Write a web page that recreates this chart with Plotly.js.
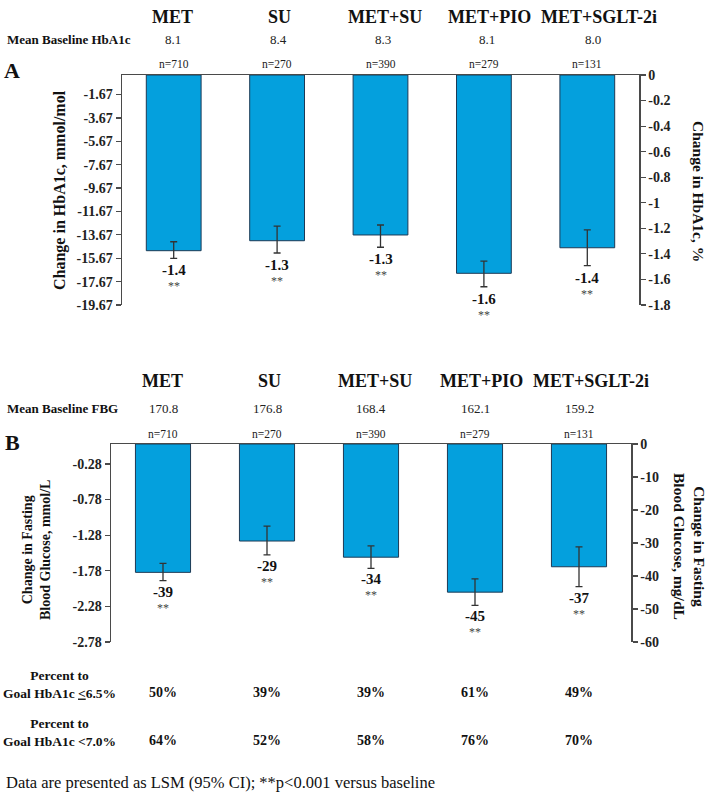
<!DOCTYPE html>
<html>
<head>
<meta charset="utf-8">
<script src="https://cdn.plot.ly/plotly-3.0.1.min.js"></script>
<style>
  html, body { margin: 0; padding: 0; background: #fff; }
  #graph { width: 708px; height: 797px; }
</style>
</head>
<body>
<div id="graph"></div>
<script>
// Treatment groups
const groups = ['MET', 'SU', 'MET+SU', 'MET+PIO', 'MET+SGLT-2i'];
const nPatients = ['n=710', 'n=270', 'n=390', 'n=279', 'n=131'];
const baselineHbA1c = ['8.1', '8.4', '8.3', '8.1', '8.0'];
const baselineFBG = ['170.8', '176.8', '168.4', '162.1', '159.2'];

// Panel A: change in HbA1c, %
const hba1cChange = [-1.375, -1.297, -1.252, -1.552, -1.352];
const hba1cErrUp = [0.07, 0.115, 0.078, 0.096, 0.14];
const hba1cErrDown = [0.06, 0.096, 0.096, 0.105, 0.14];
const hba1cLabels = ['-1.4', '-1.3', '-1.3', '-1.6', '-1.4'];

// Panel B: change in FBG, mg/dL
const fbgChange = [-38.9, -29.4, -34.3, -44.9, -37.2];
const fbgErrUp = [2.7, 4.5, 3.4, 4.0, 6.0];
const fbgErrDown = [2.5, 4.2, 3.4, 4.0, 6.0];
const fbgLabels = ['-39', '-29', '-34', '-45', '-37'];

// Percent to goal rows
const goal65 = ['50%', '39%', '39%', '61%', '49%'];
const goal70 = ['64%', '52%', '58%', '76%', '70%'];

// Tick values
const ticksMmolMol = [-1.67, -3.67, -5.67, -7.67, -9.67, -11.67, -13.67, -15.67, -17.67, -19.67];
const ticksPct = [0, -0.2, -0.4, -0.6, -0.8, -1, -1.2, -1.4, -1.6, -1.8];
const ticksMmolL = [-0.28, -0.78, -1.28, -1.78, -2.28, -2.78];
const ticksMgdl = [0, -10, -20, -30, -40, -50, -60];

const W = 708, H = 797;
const serif = 'Liberation Serif, Times New Roman, serif';
const barColor = '#04A0DD';
const axisColor = '#4a4a4a';
// header labels sit a little right of the bar centres in the original
const headerShift = [-1, 2, 4, 6, 12];

// pixel helpers -> paper coords
function px(x) { return x / W; }
function py(y) { return 1 - y / H; }

let data = [
    {   // Panel A bars (right axis, %)
        type: 'bar', x: groups, y: hba1cChange, xaxis: 'x', yaxis: 'y',
        marker: {color: barColor, line: {color: '#1d3a56', width: 1}},
        error_y: {type: 'data', symmetric: false, array: hba1cErrUp, arrayminus: hba1cErrDown,
                  color: '#333', thickness: 1.3, width: 3.5},
        hoverinfo: 'skip'
    },
    {   // empty trace so the mmol/mol axis gets drawn
        type: 'scatter', mode: 'markers', x: groups, y: groups.map(() => null),
        xaxis: 'x', yaxis: 'y2', hoverinfo: 'skip'
    },
    {   // Panel B bars (right axis, mg/dL)
        type: 'bar', x: groups, y: fbgChange, xaxis: 'x2', yaxis: 'y3',
        marker: {color: barColor, line: {color: '#1d3a56', width: 1}},
        error_y: {type: 'data', symmetric: false, array: fbgErrUp, arrayminus: fbgErrDown,
                  color: '#333', thickness: 1.3, width: 3.5},
        hoverinfo: 'skip'
    },
    {   // empty trace so the mmol/L axis gets drawn
        type: 'scatter', mode: 'markers', x: groups, y: groups.map(() => null),
        xaxis: 'x2', yaxis: 'y4', hoverinfo: 'skip'
    }
];

const tickFont = {family: serif, size: 14, color: '#222', weight: 'bold'};
function yAxisBase(extra) {
    return Object.assign({
        showline: true, linecolor: axisColor, linewidth: 1.5,
        ticks: 'outside', ticklen: 5, tickcolor: axisColor, tickwidth: 1.2,
        showgrid: false, zeroline: false, tickfont: tickFont, fixedrange: true
    }, extra);
}
function xAxisBase(extra) {
    return Object.assign({
        type: 'category', side: 'top', showline: true, linecolor: axisColor, linewidth: 1.5,
        ticks: '', showticklabels: false, showgrid: false, zeroline: false, fixedrange: true
    }, extra);
}

let layout = {
    width: W, height: H,
    margin: {l: 0, r: 0, t: 0, b: 0},
    paper_bgcolor: '#fff', plot_bgcolor: 'rgba(0,0,0,0)',
    showlegend: false,
    barmode: 'overlay', bargap: 0.47,
    font: {family: serif, color: '#111'},
    xaxis: xAxisBase({domain: [px(122), px(639)], anchor: 'y', range: [-0.5, 4.5]}),
    yaxis: yAxisBase({domain: [py(305), py(75)], anchor: 'x', side: 'right', range: [-1.8, 0],
                      tickvals: ticksPct, ticktext: ticksPct.map(String)}),
    yaxis2: yAxisBase({domain: [py(305), py(75)], overlaying: 'y', anchor: 'x', side: 'left', range: [-19.67, 0],
                       tickvals: ticksMmolMol, ticktext: ticksMmolMol.map(String)}),
    xaxis2: xAxisBase({domain: [px(111), px(631)], anchor: 'y3', range: [-0.5, 4.5]}),
    yaxis3: yAxisBase({domain: [py(642), py(444)], anchor: 'x2', side: 'right', range: [-60, 0],
                       tickvals: ticksMgdl, ticktext: ticksMgdl.map(String)}),
    yaxis4: yAxisBase({domain: [py(642), py(444)], overlaying: 'y3', anchor: 'x2', side: 'left', range: [-2.78, 0],
                       tickvals: ticksMmolL, ticktext: ticksMmolL.map(String)}),
    annotations: []
};

let ann = layout.annotations;
function text(t, x, y, opts) {
    ann.push(Object.assign({text: t, x: x, y: y, xref: 'paper', yref: 'paper',
        showarrow: false, xanchor: 'center', yanchor: 'middle',
        font: {family: serif, size: 13, color: '#111'}}, opts));
}
const bold = (size) => ({family: serif, size: size, color: '#111', weight: 'bold'});
const plain = (size, color) => ({family: serif, size: size, color: color || '#222'});

// Panel A header rows and bar labels
groups.forEach((g, i) => {
    text(g, g, py(17), {xref: 'x', xshift: headerShift[i], font: bold(18)});
    text(baselineHbA1c[i], g, py(39), {xref: 'x', xshift: headerShift[i] / 2, font: plain(13)});
    text(nPatients[i], g, py(64), {xref: 'x', font: plain(11.5)});
    let low = hba1cChange[i] - hba1cErrDown[i];
    text(hba1cLabels[i], g, low, {xref: 'x', yref: 'y', yanchor: 'top', yshift: -2, font: bold(15)});
    text('**', g, low, {xref: 'x', yref: 'y', yanchor: 'top', yshift: -19, font: plain(12, '#444')});
});
text('Mean Baseline HbA1c', px(5), py(39), {xanchor: 'left', font: bold(13)});
text('A', px(12), py(70), {font: bold(22)});
text('Change in HbA1c, mmol/mol', px(60), py(190), {textangle: -90, font: bold(16)});
text('Change in HbA1c, %', px(699), py(191), {textangle: 90, font: bold(15.5)});

// Panel B header rows, bar labels and goal rows
groups.forEach((g, i) => {
    text(g, g, py(381), {xref: 'x2', xshift: headerShift[i], font: bold(18)});
    text(baselineFBG[i], g, py(408), {xref: 'x2', font: plain(13)});
    text(nPatients[i], g, py(434), {xref: 'x2', font: plain(11.5)});
    let low = fbgChange[i] - fbgErrDown[i];
    text(fbgLabels[i], g, low, {xref: 'x2', yref: 'y3', yanchor: 'top', yshift: -1, font: bold(15)});
    text('**', g, low, {xref: 'x2', yref: 'y3', yanchor: 'top', yshift: -18, font: plain(12, '#444')});
    text(goal65[i], g, py(692), {xref: 'x2', font: bold(14)});
    text(goal70[i], g, py(740), {xref: 'x2', font: bold(14)});
});
text('Mean Baseline FBG', px(5), py(408), {xanchor: 'left', font: bold(13)});
text('B', px(12), py(442), {font: bold(22)});
text('Change in Fasting<br>Blood Glucose, mmol/L', px(36), py(550), {textangle: -90, font: bold(14)});
text('Change in Fasting<br>Blood Glucose, mg/dL', px(690), py(546), {textangle: 90, font: bold(15.5)});

text('Percent to<br>Goal HbA1c <u>&lt;</u>6.5%', px(59), py(684), {font: bold(13.5)});
text('Percent to<br>Goal HbA1c &lt;7.0%', px(59), py(732), {font: bold(13.5)});

text('Data are presented as LSM (95% CI); **p&lt;0.001 versus baseline', px(4), py(782),
     {xanchor: 'left', font: plain(16.5, '#111')});

Plotly.newPlot('graph', data, layout, {staticPlot: true, displayModeBar: false});
</script>
</body>
</html>
